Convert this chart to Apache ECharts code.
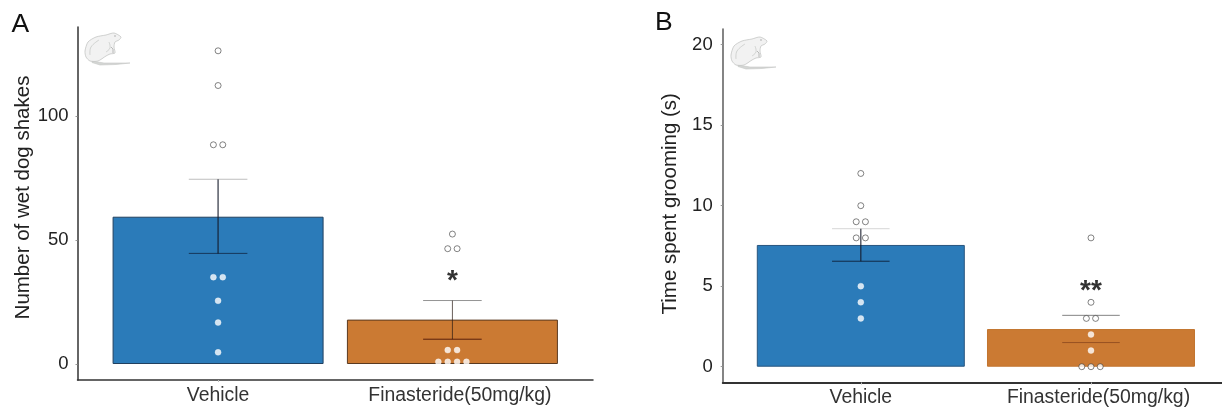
<!DOCTYPE html>
<html><head><meta charset="utf-8">
<style>html,body{margin:0;padding:0;background:#fff}#c{width:1222px;height:408px}</style>
<script src="https://cdn.jsdelivr.net/npm/echarts@6/dist/echarts.min.js"></script>
</head><body><div id="c"></div>
<script>
const categories = ['Vehicle', 'Finasteride(50mg/kg)'];
const panelALabel = 'A', panelBLabel = 'B';
const yTitleA = 'Number of wet dog shakes', yTitleB = 'Time spent grooming (s)';
const yTicksA = [0, 50, 100], yTicksB = [0, 5, 10, 15, 20];
const meansA = [59.4, 17.9], errLowA = [44.6, 10], errHighA = [74.5, 25.6];
const meansB = [7.56, 2.34], errLowB = [6.55, 1.5], errHighB = [8.57, 3.19];
const pointsA = [[1,126.3],[1,112.3],[0.98,88.4],[1.02,88.4],[0.98,35],[1.02,35],[1,25.5],[1,16.7],[1,4.7],
  [2,52.4],[1.98,46.5],[2.02,46.5],[1.98,5.6],[2.02,5.6],[1.94,0.9],[1.98,0.9],[2.02,0.9],[2.06,0.9]];
const pointsB = [[1,12],[1,10],[0.98,9],[1.02,9],[0.98,8],[1.02,8],[1,5],[1,4],[1,3],
  [2,8],[2,4],[1.98,3],[2.02,3],[2,2],[2,1],[1.96,0],[2,0],[2.04,0]];
const sigA = [[2, '*', 33.2]], sigB = [[2, '**', 4.71]];

const FONT = '"Liberation Sans", Arial, sans-serif';
const BLUE = '#2b7bb9', ORANGE = '#cb7a33';
const chart = echarts.init(document.getElementById('c'), null, {renderer: 'canvas'});

// error-bar look per bar: stem colour/width, upper cap colour, lower cap colour
const errLookA = [
  {stem: 'rgba(20,25,40,.72)', w: 1.5, top: 'rgba(70,70,70,.35)', low: 'rgba(10,20,40,.65)'},
  {stem: 'rgba(40,25,20,.7)', w: 1, top: 'rgba(60,60,60,.55)', low: 'rgba(70,15,5,.85)'}
];
const errLookB = [
  {stem: 'rgba(20,25,40,.8)', w: 1.3, top: 'rgba(70,70,70,.22)', low: 'rgba(10,20,40,.8)'},
  {stem: 'rgba(0,0,0,0)', w: 0, top: 'rgba(50,50,50,.6)', low: 'rgba(110,50,20,.55)'}
];

function xAxis(i, color, w) {
  return {
    type: 'value', gridIndex: i, min: 0.4, max: 2.6, splitLine: {show: false},
    axisLine: {show: true, onZero: false, lineStyle: {color, width: w}},
    axisTick: {show: true, length: 2, lineStyle: {color: '#bbb'}, customValues: [1, 2]},
    axisLabel: {
      customValues: [1, 2], margin: 6,
      formatter: v => v === 1 ? '{a|' + categories[0] + '}' : '{b|' + categories[1] + '}',
      rich: {
        a: {fontFamily: FONT, fontSize: 19.4, color: '#333'},
        b: {fontFamily: FONT, fontSize: 19.4, color: '#333', padding: [0, 0, 0, 15]}
      }
    }
  };
}
function yAxis(i, min, max, ticks, name, gap, pad, lm, color, w) {
  return {
    type: 'value', gridIndex: i, min, max, splitLine: {show: false},
    name, nameLocation: 'middle', nameGap: gap,
    nameTextStyle: {fontFamily: FONT, fontSize: 20.5, color: '#222', padding: pad},
    axisLine: {show: true, onZero: false, lineStyle: {color, width: w}},
    axisTick: {show: true, length: 2, lineStyle: {color: '#999'}, customValues: ticks},
    axisLabel: {customValues: ticks, margin: lm, fontFamily: FONT, fontSize: 18.5, color: '#222'}
  };
}
function panel(i, means, lows, highs, looks, pts, sig, barW, border, dot, sigSize) {
  return [
    {type: 'bar', xAxisIndex: i, yAxisIndex: i, barWidth: barW, silent: true,
     data: means.map((m, k) => ({value: [k + 1, m], itemStyle: {color: k ? ORANGE : BLUE, borderColor: border[k], borderWidth: 1}}))},
    {type: 'custom', xAxisIndex: i, yAxisIndex: i, silent: true, z: 3,
     data: means.map((m, k) => [k + 1, lows[k], highs[k]]),
     encode: {x: 0, y: [1, 2]},
     renderItem(p, api) {
       const x = api.value(0), lo = api.coord([x, api.value(1)]), hi = api.coord([x, api.value(2)]);
       const l = api.coord([x - 0.125, 0])[0], r = api.coord([x + 0.125, 0])[0];
       const look = looks[p.dataIndex];
       return {type: 'group', children: [
         {type: 'line', shape: {x1: hi[0], y1: hi[1], x2: lo[0], y2: lo[1]}, style: {stroke: look.stem, lineWidth: look.w}},
         {type: 'line', shape: {x1: l, y1: hi[1], x2: r, y2: hi[1]}, style: {stroke: look.top, lineWidth: 1, fill: 'none'}},
         {type: 'line', shape: {x1: l, y1: lo[1], x2: r, y2: lo[1]}, style: {stroke: look.low, lineWidth: 1, fill: 'none'}}
       ]};
     }},
    {type: 'scatter', xAxisIndex: i, yAxisIndex: i, silent: true, z: 4, symbolSize: dot,
     data: pts.map(pt => {
       const onBar = pt[1] > 0.5 && pt[1] < means[Math.round(pt[0]) - 1];
       return {value: pt, itemStyle: {color: '#fff', borderColor: onBar ? '#fff' : 'rgba(40,40,40,.8)', borderWidth: onBar ? 0.4 : 0.9}};
     })},
    {type: 'scatter', xAxisIndex: i, yAxisIndex: i, silent: true, z: 5, symbol: 'circle', symbolSize: 1,
     itemStyle: {color: 'rgba(0,0,0,0)'},
     data: sig.map(s => ({value: [s[0], s[2]], label: {show: true, position: 'inside', formatter: s[1], fontFamily: FONT, fontSize: sigSize, fontWeight: 'bold', color: '#000'}}))}
  ];
}
function rat(x, y, s) {
  const line = {fill: 'none', stroke: '#c8cac8', lineWidth: 0.8};
  return {type: 'group', x, y, scaleX: s, scaleY: s, silent: true, z: 10, children: [
    {type: 'polygon', shape: {points: [[8,28],[20,30],[34,30],[46,30],[32,31.5],[16,32],[8,29.5]]}, style: {fill: '#d4d6d4', stroke: '#c6c8c6', lineWidth: 0.6}},
    {type: 'polygon', shape: {smooth: 0.25, points: [[1,18],[4,9],[12,4],[22,2],[30,0],[37,4],[35,7],[31,9],[30,14],[31,20],[26,21],[22,23],[14,28],[6,28],[2,24]]}, style: {fill: '#f2f2f2', stroke: '#bdbfbd', lineWidth: 0.7}},
    {type: 'polyline', shape: {smooth: 0.4, points: [[6,22],[7,14],[15,7]]}, style: line},
    {type: 'polyline', shape: {smooth: 0.4, points: [[22,19],[26,15],[25,9]]}, style: line},
    {type: 'polyline', shape: {points: [[27,14],[29,16],[29,20]]}, style: {fill: 'none', stroke: '#a8aaa8', lineWidth: 0.8}},
    {type: 'circle', shape: {cx: 31, cy: 3, r: 0.7}, style: {fill: '#999'}}
  ]};
}
chart.setOption({
  animation: false,
  backgroundColor: '#fff',
  title: [
    {text: panelALabel, left: 6.5, top: 6, textStyle: {fontFamily: FONT, fontSize: 26.5, fontWeight: 'normal', color: '#111'}},
    {text: panelBLabel, left: 650, top: 4, textStyle: {fontFamily: FONT, fontSize: 26.5, fontWeight: 'normal', color: '#111'}}
  ],
  grid: [
    {left: 77.5, top: 27, width: 515.5, height: 353, outerBoundsMode: 'none'},
    {left: 722.7, top: 29, width: 506.4, height: 353.5, outerBoundsMode: 'none'}
  ],
  xAxis: [xAxis(0, '#333', 1.5), xAxis(1, '#333', 1.8)],
  yAxis: [
    yAxis(0, -6.45, 135.9, yTicksA, yTitleA, 43, [0, 0, 0, 12], 9, '#333', 1.5),
    yAxis(1, -0.98, 20.97, yTicksB, yTitleB, 42, [0, 0, 0, 4], 10, '#666', 1.6)
  ],
  series: [
    ...panel(0, meansA, errLowA, errHighA, errLookA, pointsA, sigA, 211, ['#21405f', '#5a3a20'], 6, 28),
    ...panel(1, meansB, errLowB, errHighB, errLookB, pointsB, sigB, 208, ['#28557f', '#c2752f'], 6, 28)
  ],
  graphic: [rat(84, 33, 1), rat(730, 37, 1)]
});
</script></body></html>
